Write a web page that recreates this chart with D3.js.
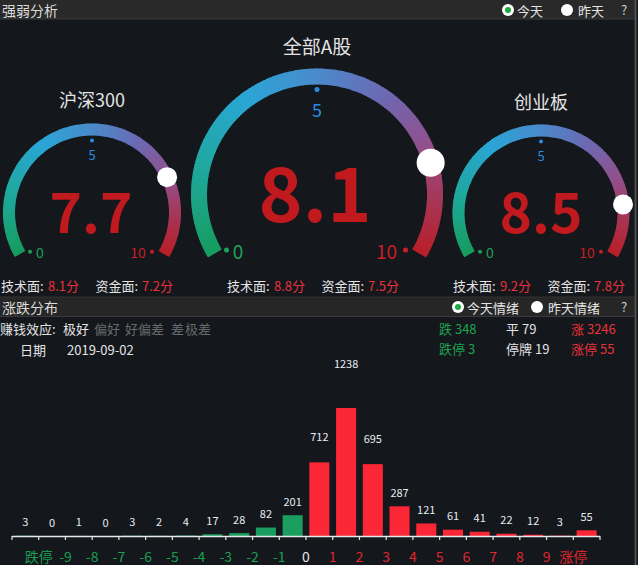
<!DOCTYPE html>
<html><head><meta charset="utf-8">
<script src="https://cdn.jsdelivr.net/npm/d3@7/dist/d3.min.js"></script>
<style>
html,body{margin:0;padding:0;background:#14171c;}
svg{display:block;font-family:"Noto Sans CJK SC","Noto Sans",sans-serif;}
</style></head>
<body>
<svg id="c" width="638" height="565"></svg>
<script>
// ---------- data ----------
const gaugeNames = ["沪深300", "全部A股", "创业板"];
const gaugeScores = [7.7, 8.1, 8.5];
const techScores = [8.1, 8.8, 9.2];
const fundScores = [7.2, 7.5, 7.8];
const gaugeTicks = [0, 5, 10];
const effectLabels = ["极好", "偏好", "好", "偏差", "差", "极差"];
const effectActive = "极好";
const tradeDate = "2019-09-02";
const statNames1 = ["跌", "平", "涨"];
const statValues1 = [348, 79, 3246];
const statNames2 = ["跌停", "停牌", "涨停"];
const statValues2 = [3, 19, 55];
const barValues = [3, 0, 1, 0, 3, 2, 4, 17, 28, 82, 201, 712, 1238, 695, 287, 121, 61, 41, 22, 12, 3, 55];
const axisLabels = ["跌停", "-9", "-8", "-7", "-6", "-5", "-4", "-3", "-2", "-1", "0", "1", "2", "3", "4", "5", "6", "7", "8", "9", "涨停"];

// ---------- styles ----------
const C = {
  bg: "#14171c", header: "#292929", headerLine: "#3a3a3a", text: "#e4e4e4", gray: "#6a6a6a",
  green: "#1ea24e", red: "#e8323a", darkRed: "#c0191e", blue: "#2a8be0", barGreen: "#1a9e5f", barRed: "#fb2736"
};
const svg = d3.select("#c");
svg.append("rect").attr("width", 638).attr("height", 565).attr("fill", C.bg);

function txt(x, y, s, size, fill, anchor, weight) {
  return svg.append("text").attr("x", x).attr("y", y).attr("font-size", size).attr("fill", fill)
    .attr("text-anchor", anchor || "start").attr("dominant-baseline", "central")
    .attr("font-weight", weight || "normal").text(s);
}
function radio(x, y, checked) {
  svg.append("circle").attr("cx", x).attr("cy", y).attr("r", 6).attr("fill", "#fff");
  if (checked) svg.append("circle").attr("cx", x).attr("cy", y).attr("r", 3).attr("fill", "#1cab3c");
}

// ---------- header 1 ----------
svg.append("rect").attr("x", 0).attr("y", 0).attr("width", 635).attr("height", 19).attr("fill", C.header);
svg.append("line").attr("x1", 0).attr("x2", 635).attr("y1", 19).attr("y2", 19).attr("stroke", C.headerLine);
txt(2, 9.5, "强弱分析", 14, "#dcdcdc");
radio(508, 10, true); txt(517, 10, "今天", 13, C.text);
radio(567, 10, false); txt(578, 10, "昨天", 13, C.text);
txt(624, 9, "?", 13, "#cfcfcf", "middle");

// ---------- gauges ----------
const gaugeLayout = [
  {cx: 92, cy: 212.5, r: 83, w: 12, knob: 10, big: 55, bigDx: -1, bigDy: 20.5, titleY: 99, titleSize: 18, fiveSize: 13, fiveDy: 14.3, endSize: 14, t0: -52, t10: 46, d0: -62, d10: 60, endDy: 39.2, dotR: 2},
  {cx: 317, cy: 194.5, r: 118, w: 16, knob: 14, big: 75, bigDx: -2, bigDy: 27.5, titleY: 45, titleSize: 19, fiveSize: 18, fiveDy: 19.7, endSize: 19, t0: -79, t10: 69.5, d0: -90.5, d10: 88.5, endDy: 55.5, dotR: 2.5},
  {cx: 541, cy: 213, r: 82.5, w: 12, knob: 10, big: 55, bigDx: 0, bigDy: 20, titleY: 101, titleSize: 18, fiveSize: 13, fiveDy: 14.3, endSize: 14, t0: -51, t10: 46, d0: -61, d10: 60, endDy: 38.7, dotR: 2}
];
const ang = d3.scaleLinear().domain([0, 10]).range([-2 * Math.PI / 3, 2 * Math.PI / 3]);
const arcColor = d3.scaleLinear()
  .domain([0, 0.18, 0.35, 0.5, 0.64, 0.78, 0.9, 1])
  .range(["#169c5e", "#1fa89e", "#2aa6d6", "#4a8acb", "#6c69b3", "#934f8a", "#a83350", "#b81e28"])
  .interpolate(d3.interpolateRgb);
const N = 160;

gaugeNames.forEach((name, gi) => {
  const L = gaugeLayout[gi];
  const g = svg.append("g").attr("transform", `translate(${L.cx},${L.cy})`);
  const arc = d3.arc().innerRadius(L.r - L.w / 2).outerRadius(L.r + L.w / 2);
  const segs = d3.range(N);
  g.selectAll("path.seg").data(segs).join("path").attr("class", "seg")
    .attr("d", i => arc({startAngle: ang(i * 10 / N), endAngle: ang((i + 1) * 10 / N) + (i < N - 1 ? 0.01 : 0)}))
    .attr("fill", i => arcColor((i + 0.5) / N));
  // title
  txt(L.cx, L.titleY, name, L.titleSize, C.text, "middle");
  // tick 5
  const fiveR = L.r - L.w / 2 - 5;
  g.append("circle").attr("cx", 0).attr("cy", -fiveR).attr("r", L.dotR).attr("fill", C.blue);
  g.append("text").attr("x", 0).attr("y", -fiveR + L.fiveDy).attr("text-anchor", "middle")
    .attr("dominant-baseline", "central").attr("font-size", L.fiveSize).attr("fill", C.blue).text(gaugeTicks[1]);
  // tick 0 / 10
  g.append("circle").attr("cx", L.d0).attr("cy", L.endDy).attr("r", L.dotR).attr("fill", "#1ea25a");
  g.append("text").attr("x", L.t0).attr("y", L.endDy).attr("text-anchor", "middle")
    .attr("dominant-baseline", "central").attr("font-size", L.endSize).attr("fill", "#1ea25a").text(gaugeTicks[0]);
  g.append("circle").attr("cx", L.d10).attr("cy", L.endDy).attr("r", L.dotR).attr("fill", "#c81e26");
  g.append("text").attr("x", L.t10).attr("y", L.endDy).attr("text-anchor", "middle")
    .attr("dominant-baseline", "central").attr("font-size", L.endSize).attr("fill", "#c81e26").text(gaugeTicks[2]);
  // value
  g.append("text").attr("x", L.bigDx).attr("y", L.bigDy).attr("text-anchor", "middle")
    .attr("font-size", L.big).attr("font-weight", "bold").attr("fill", C.darkRed)
    .text(gaugeScores[gi].toFixed(1));
  // knob
  const a = ang(gaugeScores[gi]);
  g.append("circle").attr("cx", L.r * Math.sin(a)).attr("cy", -L.r * Math.cos(a)).attr("r", L.knob).attr("fill", "#fff");
  // info row
  const gx = [1, 227, 453][gi];
  txt(gx, 285, "技术面:", 13, C.text);
  txt(gx + 47, 285, techScores[gi].toFixed(1) + "分", 13, C.red);
  txt(gx + 94.5, 285, "资金面:", 13, C.text);
  txt(gx + 141, 285, fundScores[gi].toFixed(1) + "分", 13, C.red);
});

// ---------- header 2 ----------
svg.append("rect").attr("x", 0).attr("y", 297).attr("width", 635).attr("height", 19).attr("fill", "#262626");
svg.append("line").attr("x1", 0).attr("x2", 635).attr("y1", 297).attr("y2", 297).attr("stroke", "#333");
svg.append("line").attr("x1", 0).attr("x2", 635).attr("y1", 316.5).attr("y2", 316.5).attr("stroke", "#3a3a3a");
txt(2, 306.5, "涨跌分布", 14, "#dcdcdc");
radio(458, 307, true); txt(467, 307, "今天情绪", 13, C.text);
radio(537, 307, false); txt(548, 307, "昨天情绪", 13, C.text);
txt(624, 306, "?", 13, "#cfcfcf", "middle");

// effect row
txt(0, 328, "赚钱效应:", 13, C.text);
const effX = [63, 94, 125, 138, 171, 185];
effectLabels.forEach((e, i) => txt(effX[i], 328, e, 13, e === effectActive ? C.text : C.gray));
txt(20, 349, "日期", 13, C.text);
txt(67, 349, tradeDate, 13, C.text);
const statX = [439, 506, 571];
const statCol = [C.green, C.text, C.red];
statNames1.forEach((n, i) => txt(statX[i], 328, n + " " + statValues1[i], 13, statCol[i]));
statNames2.forEach((n, i) => txt(statX[i], 348, n + " " + statValues2[i], 13, statCol[i]));

// ---------- bar chart ----------
const base = 536;
const x = d3.scaleBand().domain(d3.range(barValues.length)).range([12, 600]).paddingInner(0.25).paddingOuter(0.125);
const y = d3.scaleLinear().domain([0, d3.max(barValues)]).range([base, 408]);
const step = x.step();
const bars = svg.append("g");
bars.selectAll("rect").data(barValues).join("rect")
  .attr("x", (d, i) => x(i)).attr("width", x.bandwidth())
  .attr("y", d => y(d)).attr("height", d => base - y(d))
  .attr("fill", (d, i) => i <= 10 ? C.barGreen : C.barRed);
bars.selectAll("text").data(barValues).join("text")
  .attr("x", (d, i) => x(i) + x.bandwidth() / 2)
  .attr("y", d => { const h = base - y(d); return y(d) - 14.5 - Math.max(0, h - 40) * 0.35; })
  .attr("text-anchor", "middle").attr("dominant-baseline", "central")
  .attr("font-size", 11).attr("fill", "#e6ecf2").text(d => d);

// axis with ticks at band boundaries
const tickPos = d3.range(barValues.length + 1).map(i => 12 + i * step);
const ax = svg.append("g");
ax.append("line").attr("x1", 12).attr("x2", 600).attr("y1", base + 0.5).attr("y2", base + 0.5).attr("stroke", "#e8e8e8").attr("stroke-width", 1.5);
ax.selectAll("line.t").data(tickPos).join("line").attr("class", "t")
  .attr("x1", d => d).attr("x2", d => d).attr("y1", base).attr("y2", base + 4)
  .attr("stroke", "#e8e8e8").attr("stroke-width", 1.2);
ax.selectAll("text").data(axisLabels).join("text")
  .attr("x", (d, i) => tickPos[i + 1]).attr("y", 555.5)
  .attr("text-anchor", "middle").attr("dominant-baseline", "central").attr("font-size", 14)
  .attr("fill", (d, i) => i < 10 ? "#1a9e50" : (i === 10 ? "#e8e8e8" : "#e0262f"))
  .text(d => d);

// right border
svg.append("line").attr("x1", 635.5).attr("x2", 635.5).attr("y1", 0).attr("y2", 565).attr("stroke", "#4e4e4e").attr("stroke-width", 2);
</script>
</body></html>
